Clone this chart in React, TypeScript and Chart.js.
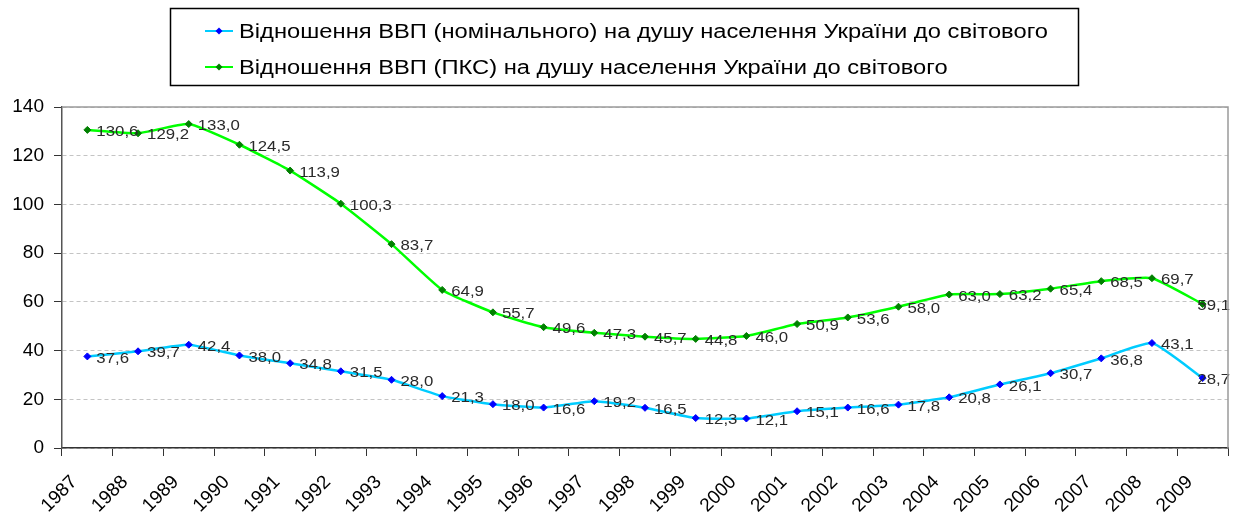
import React, { useEffect, useRef } from "react";
import { Chart, registerables } from "chart.js";

Chart.register(...registerables);

const years = ["1987", "1988", "1989", "1990", "1991", "1992", "1993", "1994", "1995", "1996", "1997", "1998", "1999", "2000", "2001", "2002", "2003", "2004", "2005", "2006", "2007", "2008", "2009"];

const nominalRatio = [37.6, 39.7, 42.4, 38.0, 34.8, 31.5, 28.0, 21.3, 18.0, 16.6, 19.2, 16.5, 12.3, 12.1, 15.1, 16.6, 17.8, 20.8, 26.1, 30.7, 36.8, 43.1, 28.7];

const pppRatio = [130.6, 129.2, 133.0, 124.5, 113.9, 100.3, 83.7, 64.9, 55.7, 49.6, 47.3, 45.7, 44.8, 46.0, 50.9, 53.6, 58.0, 63.0, 63.2, 65.4, 68.5, 69.7, 59.1];

const seriesNames = [
  "Відношення ВВП (номінального) на душу населення України до світового",
  "Відношення ВВП (ПКС) на душу населення України до світового",
];

const yTicks = [0, 20, 40, 60, 80, 100, 120, 140];

const FONT = "'Liberation Sans', Arial, sans-serif";

const frameBorderPlugin = {
  id: "frameBorder",
  afterDraw(chart: any) {
    const { ctx, chartArea } = chart;
    ctx.save();
    ctx.strokeStyle = "#9a9a9a";
    ctx.lineWidth = 1.5;
    ctx.beginPath();
    ctx.moveTo(chartArea.left, chartArea.top);
    ctx.lineTo(chartArea.right, chartArea.top);
    ctx.lineTo(chartArea.right, chartArea.bottom);
    ctx.stroke();
    ctx.restore();
  },
};

const LABEL_STRETCH = 1.12;

const valueLabelPlugin = {
  id: "valueLabels",
  afterDatasetsDraw(chart: any) {
    const { ctx } = chart;
    ctx.save();
    ctx.font = `15px ${FONT}`;
    ctx.fillStyle = "#2a2a2a";
    ctx.textBaseline = "middle";
    ctx.textAlign = "left";
    chart.data.datasets.forEach((ds: any, di: number) => {
      const meta = chart.getDatasetMeta(di);
      meta.data.forEach((pt: any, i: number) => {
        const txt = Number(ds.data[i]).toFixed(1).replace(".", ",");
        const w = ctx.measureText(txt).width * LABEL_STRETCH;
        let x = pt.x + 9;
        if (x + w > chart.width - 4) x = chart.width - 4 - w;
        ctx.save();
        ctx.translate(x, pt.y + 2);
        ctx.scale(LABEL_STRETCH, 1);
        ctx.fillText(txt, 0, 0);
        ctx.restore();
      });
    });
    ctx.restore();
  },
};

const LEGEND_STRETCH = 1.187;

const boxLegendPlugin = {
  id: "boxLegend",
  afterDraw(chart: any) {
    const { ctx } = chart;
    ctx.save();
    ctx.strokeStyle = "#000";
    ctx.lineWidth = 1.5;
    ctx.strokeRect(170.5, 8.5, 908, 77);
    const rows = [31, 67];
    chart.data.datasets.forEach((ds: any, i: number) => {
      const y = rows[i];
      ctx.strokeStyle = ds.borderColor;
      ctx.lineWidth = 2;
      ctx.beginPath();
      ctx.moveTo(205, y);
      ctx.lineTo(233, y);
      ctx.stroke();
      ctx.fillStyle = ds.pointBackgroundColor;
      ctx.beginPath();
      ctx.moveTo(219, y - 3.5);
      ctx.lineTo(222.5, y);
      ctx.lineTo(219, y + 3.5);
      ctx.lineTo(215.5, y);
      ctx.closePath();
      ctx.fill();
      ctx.fillStyle = "#000";
      ctx.font = `20px ${FONT}`;
      ctx.textBaseline = "middle";
      ctx.textAlign = "left";
      ctx.save();
      ctx.translate(239, y + 1);
      ctx.scale(LEGEND_STRETCH, 1);
      ctx.fillText(ds.label, 0, 0);
      ctx.restore();
    });
    ctx.restore();
  },
};

export default function App() {
  const canvasRef = useRef<HTMLCanvasElement | null>(null);

  useEffect(() => {
    if (!canvasRef.current) return;
    const chart = new Chart(canvasRef.current, {
      type: "line",
      data: {
        labels: years,
        datasets: [
          {
            label: seriesNames[0],
            data: nominalRatio,
            borderColor: "#00CCFF",
            borderWidth: 2.5,
            pointStyle: "rectRot",
            pointRadius: 3.5,
            pointBackgroundColor: "#0000FF",
            pointBorderColor: "#0000FF",
            pointBorderWidth: 1,
            tension: 0.15,
            fill: false,
          },
          {
            label: seriesNames[1],
            data: pppRatio,
            borderColor: "#00FF00",
            borderWidth: 2.5,
            pointStyle: "rectRot",
            pointRadius: 3.5,
            pointBackgroundColor: "#008000",
            pointBorderColor: "#008000",
            pointBorderWidth: 1,
            tension: 0.15,
            fill: false,
          },
        ],
      },
      options: {
        responsive: true,
        maintainAspectRatio: false,
        animation: false,
        events: [],
        layout: { padding: { top: 107, right: 6, left: 0, bottom: 0 } },
        plugins: {
          legend: { display: false },
          tooltip: { enabled: false },
        },
        scales: {
          x: {
            type: "category",
            offset: true,
            grid: {
              display: true,
              drawOnChartArea: false,
              drawTicks: true,
              tickLength: 8,
              offset: true,
              color: "#333",
            },
            border: { display: true, color: "#333", width: 1.5 },
            ticks: {
              autoSkip: false,
              minRotation: 45,
              maxRotation: 45,
              padding: 15,
              labelOffset: -13,
              color: "#000",
              font: { family: FONT, size: 19 },
            },
            afterFit: (s: any) => {
              s.height = 69;
            },
          },
          y: {
            min: 0,
            max: 140,
            afterBuildTicks: (s: any) => {
              s.ticks = yTicks.map((v) => ({ value: v }));
            },
            grid: {
              color: "#c4c4c4",
              tickColor: "#333",
              tickLength: 8,
              lineWidth: 1,
            },
            border: { display: true, color: "#555", width: 1.5, dash: [4, 3] },
            ticks: {
              padding: 10,
              color: "#000",
              font: { family: FONT, size: 19 },
            },
            afterFit: (s: any) => {
              s.width = 62;
            },
          },
        },
      },
      plugins: [frameBorderPlugin, valueLabelPlugin, boxLegendPlugin],
    });
    return () => chart.destroy();
  }, []);

  return (
    <div style={{ position: "fixed", left: 0, top: 0, width: 1234, height: 517, background: "#fff" }}>
      <canvas ref={canvasRef} style={{ width: "1234px", height: "517px" }} />
    </div>
  );
}
